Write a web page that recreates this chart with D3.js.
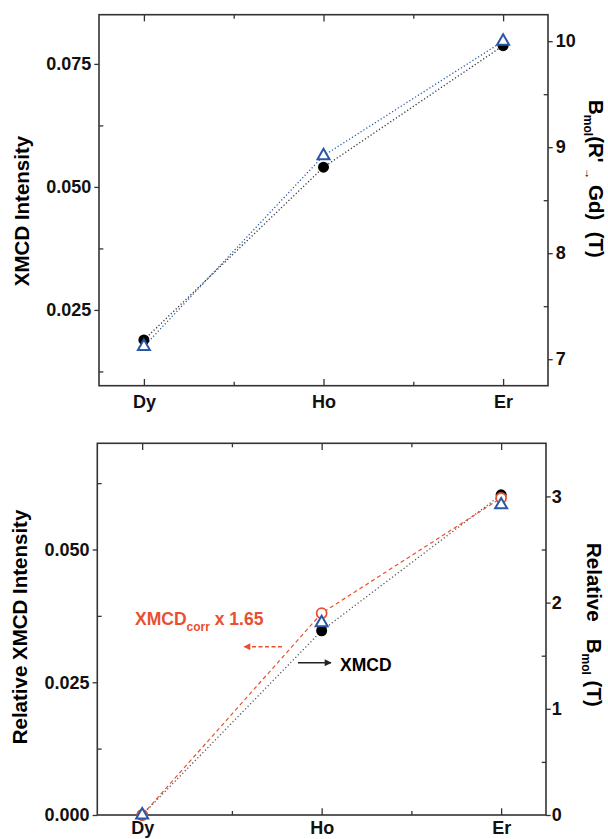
<!DOCTYPE html>
<html>
<head>
<meta charset="utf-8">
<script src="https://cdn.jsdelivr.net/npm/d3@7"></script>
<style>
	body { margin: 0; background: #fff; }
	svg { display: block; font-family: "Liberation Sans", Arial, sans-serif; font-weight: bold; }
	text { white-space: pre; }
</style>
</head>
<body>
<script>

// ---- data ----
var categories = [ 'Dy', 'Ho', 'Er' ];

// upper panel
var topXmcd = [ 0.0189, 0.0540, 0.0787 ];      // black dots, left axis
var topBmol = [ 7.12, 8.92, 10.0 ];            // blue triangles, right axis

// lower panel
var botXmcd = [ 0, 0.0347, 0.0603 ];           // black dots, left axis
var botXmcdCorr = [ 0, 0.0380, 0.0597 ];       // red circles (XMCDcorr x 1.65), left axis
var botBmol = [ 0, 1.81, 2.92 ];               // blue triangles, right axis

var topLeftTicks = [ 0.025, 0.050, 0.075 ];
var topLeftMinor = [ 0.0125, 0.0375, 0.0625 ];
var topRightTicks = [ 7, 8, 9, 10 ];
var topRightMinor = [ 7.5, 8.5, 9.5 ];
var botLeftTicks = [ 0, 0.025, 0.050 ];
var botLeftMinor = [ 0.0125, 0.0375, 0.0625 ];
var botRightTicks = [ 0, 1, 2, 3 ];
var botRightMinor = [ 0.5, 1.5, 2.5 ];

var W = 608, H = 839;
var blue = '#2a58a8', red = '#e9502f', frame = '#333';

var svg = d3.select( 'body' ).append( 'svg' )
	.attr( 'width', W )
	.attr( 'height', H );

var defs = svg.append( 'defs' );
[ [ 'arrowRed', red ], [ 'arrowBlack', '#222' ] ].forEach( function ( m ) {
	defs.append( 'marker' )
		.attr( 'id', m[0] )
		.attr( 'viewBox', '0 0 10 10' )
		.attr( 'refX', 9 )
		.attr( 'refY', 5 )
		.attr( 'markerWidth', 9 )
		.attr( 'markerHeight', 7 )
		.attr( 'markerUnits', 'userSpaceOnUse' )
		.attr( 'orient', 'auto' )
		.append( 'path' )
		.attr( 'd', 'M0,0L10,5L0,10Z' )
		.attr( 'fill', m[1] );
} );

function drawPanel( p ) {

	var x = d3.scaleLinear().domain( [ -0.25, 2.25 ] ).range( [ p.left, p.right ] );
	var yl = d3.scaleLinear().domain( p.leftDomain ).range( [ p.bottom, p.top ] );
	var yr = d3.scaleLinear().domain( p.rightDomain ).range( [ p.bottom, p.top ] );

	var g = svg.append( 'g' );

	// x axis bottom (ticks inward)
	var xb = g.append( 'g' ).attr( 'transform', 'translate(0,' + p.bottom + ')' );
	xb.call( d3.axisBottom( x ).tickValues( [ 0, 1, 2 ] ).tickSize( -6.7 ).tickPadding( p.xPad )
		.tickFormat( function ( d ) { return categories[d]; } ) );
	xb.append( 'g' ).call( d3.axisBottom( x ).tickValues( [ 0.5, 1.5 ] ).tickSize( -4 ).tickFormat( '' ) );

	// x axis top (ticks inward)
	var xt = g.append( 'g' ).attr( 'transform', 'translate(0,' + p.top + ')' );
	xt.call( d3.axisTop( x ).tickValues( [ 0, 1, 2 ] ).tickSize( -6.7 ).tickFormat( '' ) );
	xt.append( 'g' ).call( d3.axisTop( x ).tickValues( [ 0.5, 1.5 ] ).tickSize( -4 ).tickFormat( '' ) );

	// left axis
	var al = g.append( 'g' ).attr( 'transform', 'translate(' + p.left + ',0)' );
	al.call( d3.axisLeft( yl ).tickValues( p.leftTicks ).tickSize( 4.7 ).tickPadding( 3 ).tickFormat( d3.format( '.3f' ) ) );
	al.append( 'g' ).call( d3.axisLeft( yl ).tickValues( p.leftMinor ).tickSize( -4.3 ).tickFormat( '' ) );

	// right axis
	var ar = g.append( 'g' ).attr( 'transform', 'translate(' + p.right + ',0)' );
	ar.call( d3.axisRight( yr ).tickValues( p.rightTicks ).tickSize( 4.7 ).tickPadding( p.rightPad ).tickFormat( d3.format( 'd' ) ) );
	ar.append( 'g' ).call( d3.axisRight( yr ).tickValues( p.rightMinor ).tickSize( -4.3 ).tickFormat( '' ) );

	g.selectAll( '.domain' ).remove();
	g.selectAll( '.tick line' ).attr( 'stroke', frame ).attr( 'stroke-width', 1.3 );
	g.selectAll( '.tick text' )
		.attr( 'fill', '#111' )
		.style( 'font-size', '18px' )
		.style( 'font-family', '"Liberation Sans", Arial, sans-serif' )
		.style( 'font-weight', 'bold' );

	g.append( 'rect' )
		.attr( 'x', p.left )
		.attr( 'y', p.top )
		.attr( 'width', p.right - p.left )
		.attr( 'height', p.bottom - p.top )
		.attr( 'fill', 'none' )
		.attr( 'stroke', frame )
		.attr( 'stroke-width', 1.6 );

	// connecting lines
	p.lines.forEach( function ( s ) {
		var sc = s.axis === 'left' ? yl : yr;
		var line = d3.line()
			.x( function ( d, i ) { return x( i ); } )
			.y( function ( d ) { return sc( d ); } );
		g.append( 'path' )
			.datum( s.values )
			.attr( 'd', line )
			.attr( 'fill', 'none' )
			.attr( 'stroke', s.color )
			.attr( 'stroke-width', s.width )
			.attr( 'stroke-dasharray', s.dash );
	} );

	// markers, drawn in the order given
	p.marks.forEach( function ( s ) {
		var sc = s.axis === 'left' ? yl : yr;
		if ( s.shape === 'triangle' ) {
			g.selectAll( null )
				.data( s.values )
				.enter().append( 'path' )
				.attr( 'd', d3.symbol( d3.symbolTriangle, 62 ) )
				.attr( 'transform', function ( d, i ) { return 'translate(' + x( i ) + ',' + sc( d ) + ')'; } )
				.attr( 'fill', '#fff' )
				.attr( 'stroke', blue )
				.attr( 'stroke-width', 2 );
		} else {
			g.selectAll( null )
				.data( s.values )
				.enter().append( 'circle' )
				.attr( 'cx', function ( d, i ) { return x( i ); } )
				.attr( 'cy', function ( d ) { return sc( d ); } )
				.attr( 'r', s.r )
				.attr( 'fill', s.fill )
				.attr( 'stroke', s.stroke )
				.attr( 'stroke-width', s.sw );
		}
	} );

	return { x: x, yl: yl, yr: yr, g: g };
}

// ---------- upper panel ----------
drawPanel( {
	left: 99, right: 548, top: 14.7, bottom: 385.7, xPad: 9.5,
	leftDomain: [ 0.0096, 0.085 ], rightDomain: [ 6.75, 10.25 ],
	leftTicks: topLeftTicks, leftMinor: topLeftMinor,
	rightTicks: topRightTicks, rightMinor: topRightMinor, rightPad: 3,
	lines: [
		{ values: topXmcd, axis: 'left', color: '#333', width: 1.3, dash: '1.2,2.2' },
		{ values: topBmol, axis: 'right', color: blue, width: 1.3, dash: '1.2,2.2' }
	],
	marks: [
		{ values: topXmcd, axis: 'left', shape: 'circle', r: 5.5, fill: '#000', stroke: 'none', sw: 0 },
		{ values: topBmol, axis: 'right', shape: 'triangle' }
	]
} );

// ---------- lower panel ----------
drawPanel( {
	left: 97.3, right: 546, top: 443.3, bottom: 815, xPad: 6.5,
	leftDomain: [ 0, 0.07 ], rightDomain: [ 0, 3.5 ],
	leftTicks: botLeftTicks, leftMinor: botLeftMinor,
	rightTicks: botRightTicks, rightMinor: botRightMinor, rightPad: 1,
	lines: [
		{ values: botXmcd, axis: 'left', color: '#555', width: 1.3, dash: '1.2,2.4' },
		{ values: botXmcdCorr, axis: 'left', color: red, width: 1.2, dash: '4,3' }
	],
	marks: [
		{ values: botXmcd, axis: 'left', shape: 'circle', r: 5.5, fill: '#000', stroke: 'none', sw: 0 },
		{ values: botXmcdCorr, axis: 'left', shape: 'circle', r: 5, fill: '#fff', stroke: red, sw: 1.8 },
		{ values: botBmol, axis: 'right', shape: 'triangle' }
	]
} );

// ---------- axis titles ----------
svg.append( 'text' )
	.attr( 'transform', 'translate(28.5,211) rotate(-90)' )
	.attr( 'text-anchor', 'middle' )
	.style( 'font-size', '20.5px' )
	.text( 'XMCD Intensity' );

svg.append( 'text' )
	.attr( 'transform', 'translate(27,627) rotate(-90)' )
	.attr( 'text-anchor', 'middle' )
	.style( 'font-size', '20.5px' )
	.text( 'Relative XMCD Intensity' );

var tr = svg.append( 'text' )
	.attr( 'transform', 'translate(588.5,100) rotate(90)' )
	.style( 'font-size', '20.5px' );
tr.append( 'tspan' ).text( 'B' );
tr.append( 'tspan' ).attr( 'dy', 5 ).style( 'font-size', '12px' ).text( 'mol' );
tr.append( 'tspan' ).attr( 'dy', -5 ).text( "(R' " );
tr.append( 'tspan' ).attr( 'dy', 4 ).style( 'font-size', '11px' ).text( '→' );
tr.append( 'tspan' ).attr( 'dy', -4 ).text( ' Gd)  (T)' );

var br = svg.append( 'text' )
	.attr( 'transform', 'translate(587,543) rotate(90)' )
	.style( 'font-size', '20.5px' );
br.append( 'tspan' ).text( 'Relative   B' );
br.append( 'tspan' ).attr( 'dy', 5 ).style( 'font-size', '12px' ).text( 'mol' );
br.append( 'tspan' ).attr( 'dy', -5 ).text( ' (T)' );

// ---------- annotations in lower panel ----------
var ann = svg.append( 'text' )
	.attr( 'x', 135 )
	.attr( 'y', 625 )
	.attr( 'fill', red )
	.style( 'font-size', '17.5px' );
ann.append( 'tspan' ).text( 'XMCD' );
ann.append( 'tspan' ).attr( 'dy', 6 ).style( 'font-size', '12px' ).text( 'corr' );
ann.append( 'tspan' ).attr( 'dy', -6 ).text( ' x 1.65' );

svg.append( 'line' )
	.attr( 'x1', 282 ).attr( 'y1', 646.7 )
	.attr( 'x2', 244 ).attr( 'y2', 646.7 )
	.attr( 'stroke', red )
	.attr( 'stroke-width', 1.4 )
	.attr( 'stroke-dasharray', '4,2.5' )
	.attr( 'marker-end', 'url(#arrowRed)' );

svg.append( 'line' )
	.attr( 'x1', 298 ).attr( 'y1', 662.7 )
	.attr( 'x2', 331 ).attr( 'y2', 662.7 )
	.attr( 'stroke', '#222' )
	.attr( 'stroke-width', 1.6 )
	.attr( 'marker-end', 'url(#arrowBlack)' );

svg.append( 'text' )
	.attr( 'x', 340 )
	.attr( 'y', 671 )
	.attr( 'fill', '#000' )
	.style( 'font-size', '17.5px' )
	.text( 'XMCD' );

</script>
</body>
</html>
